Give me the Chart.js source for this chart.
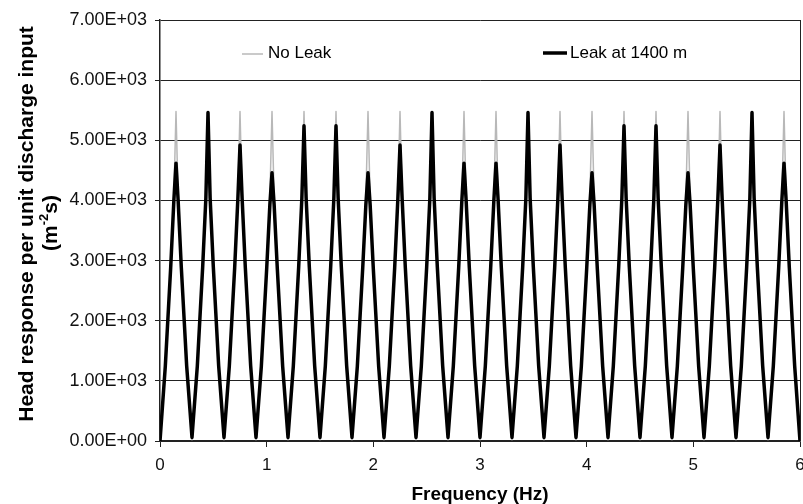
<!DOCTYPE html>
<html>
<head>
<meta charset="utf-8">
<script src="https://cdn.jsdelivr.net/npm/chart.js@4.4.1/dist/chart.umd.min.js"></script>
<style>
  html, body { margin: 0; padding: 0; background: #fff; }
  #wrap { width: 803px; height: 504px; position: relative; }
</style>
</head>
<body>
<div id="wrap"><canvas id="chart"></canvas></div>
<script>
// frequency samples (Hz): troughs, flanks, peaks
const freq = [
  0, 0.05, 0.1, 0.13, 0.15, 0.17, 0.2, 0.25,
  0.3, 0.35, 0.4, 0.43, 0.45, 0.47, 0.5, 0.55,
  0.6, 0.65, 0.7, 0.73, 0.75, 0.77, 0.8, 0.85,
  0.9, 0.95, 1.0, 1.03, 1.05, 1.07, 1.1, 1.15,
  1.2, 1.25, 1.3, 1.33, 1.35, 1.37, 1.4, 1.45,
  1.5, 1.55, 1.6, 1.63, 1.65, 1.67, 1.7, 1.75,
  1.8, 1.85, 1.9, 1.93, 1.95, 1.97, 2.0, 2.05,
  2.1, 2.15, 2.2, 2.23, 2.25, 2.27, 2.3, 2.35,
  2.4, 2.45, 2.5, 2.53, 2.55, 2.57, 2.6, 2.65,
  2.7, 2.75, 2.8, 2.83, 2.85, 2.87, 2.9, 2.95,
  3.0, 3.05, 3.1, 3.13, 3.15, 3.17, 3.2, 3.25,
  3.3, 3.35, 3.4, 3.43, 3.45, 3.47, 3.5, 3.55,
  3.6, 3.65, 3.7, 3.73, 3.75, 3.77, 3.8, 3.85,
  3.9, 3.95, 4.0, 4.03, 4.05, 4.07, 4.1, 4.15,
  4.2, 4.25, 4.3, 4.33, 4.35, 4.37, 4.4, 4.45,
  4.5, 4.55, 4.6, 4.63, 4.65, 4.67, 4.7, 4.75,
  4.8, 4.85, 4.9, 4.93, 4.95, 4.97, 5.0, 5.05,
  5.1, 5.15, 5.2, 5.23, 5.25, 5.27, 5.3, 5.35,
  5.4, 5.45, 5.5, 5.53, 5.55, 5.57, 5.6, 5.65,
  5.7, 5.75, 5.8, 5.83, 5.85, 5.87, 5.9, 5.95,
  6.0
];

// head response, no leak (grey)
const noLeak = [
  0, 1250, 2900, 4050, 5480, 4050, 2900, 1250,
  20, 1250, 2900, 4050, 5480, 4050, 2900, 1250,
  20, 1250, 2900, 4050, 5480, 4050, 2900, 1250,
  20, 1250, 2900, 4050, 5480, 4050, 2900, 1250,
  20, 1250, 2900, 4050, 5480, 4050, 2900, 1250,
  20, 1250, 2900, 4050, 5480, 4050, 2900, 1250,
  20, 1250, 2900, 4050, 5480, 4050, 2900, 1250,
  20, 1250, 2900, 4050, 5480, 4050, 2900, 1250,
  20, 1250, 2900, 4050, 5480, 4050, 2900, 1250,
  20, 1250, 2900, 4050, 5480, 4050, 2900, 1250,
  20, 1250, 2900, 4050, 5480, 4050, 2900, 1250,
  20, 1250, 2900, 4050, 5480, 4050, 2900, 1250,
  20, 1250, 2900, 4050, 5480, 4050, 2900, 1250,
  20, 1250, 2900, 4050, 5480, 4050, 2900, 1250,
  20, 1250, 2900, 4050, 5480, 4050, 2900, 1250,
  20, 1250, 2900, 4050, 5480, 4050, 2900, 1250,
  20, 1250, 2900, 4050, 5480, 4050, 2900, 1250,
  20, 1250, 2900, 4050, 5480, 4050, 2900, 1250,
  20, 1250, 2900, 4050, 5480, 4050, 2900, 1250,
  20, 1250, 2900, 4050, 5480, 4050, 2900, 1250,
  0
];

// head response, leak at 1400 m (black)
const leak1400 = [
  0, 1250, 2880, 4000, 4620, 4000, 2880, 1250,
  60, 1250, 2890, 4040, 5460, 4040, 2890, 1250,
  60, 1250, 2880, 4030, 4920, 4030, 2880, 1250,
  60, 1240, 2860, 3930, 4460, 3930, 2860, 1240,
  60, 1250, 2890, 4040, 5240, 4040, 2890, 1250,
  60, 1250, 2890, 4040, 5240, 4040, 2890, 1250,
  60, 1240, 2860, 3930, 4460, 3930, 2860, 1240,
  60, 1250, 2880, 4030, 4920, 4030, 2880, 1250,
  60, 1250, 2890, 4040, 5460, 4040, 2890, 1250,
  60, 1250, 2880, 4000, 4620, 4000, 2880, 1250,
  60, 1250, 2880, 4000, 4620, 4000, 2880, 1250,
  60, 1250, 2890, 4040, 5460, 4040, 2890, 1250,
  60, 1250, 2880, 4030, 4920, 4030, 2880, 1250,
  60, 1240, 2860, 3930, 4460, 3930, 2860, 1240,
  60, 1250, 2890, 4040, 5240, 4040, 2890, 1250,
  60, 1250, 2890, 4040, 5240, 4040, 2890, 1250,
  60, 1240, 2860, 3930, 4460, 3930, 2860, 1240,
  60, 1250, 2880, 4030, 4920, 4030, 2880, 1250,
  60, 1250, 2890, 4040, 5460, 4040, 2890, 1250,
  60, 1250, 2880, 4000, 4620, 4000, 2880, 1250,
  0
];

const seriesNames = ['No Leak', 'Leak at 1400 m'];
const xTicks = [0, 1, 2, 3, 4, 5, 6];
const yTicks = [0, 1000, 2000, 3000, 4000, 5000, 6000, 7000];

const FONT = "'Liberation Sans', Arial, Helvetica, sans-serif";

function sci(v) {
  if (v === 0) return '0.00E+00';
  const e = Math.floor(Math.log10(Math.abs(v)));
  const m = v / Math.pow(10, e);
  return m.toFixed(2) + 'E' + (e < 0 ? '-' : '+') + String(Math.abs(e)).padStart(2, '0');
}

function pts(ys) {
  return freq.map((f, i) => ({ x: f, y: ys[i] }));
}

// legend + axis titles drawn by hand (legend sits inside the plot)
const decor = {
  id: 'decor',
  afterDraw(chart) {
    const ctx = chart.ctx;
    const ds = chart.data.datasets;
    ctx.save();
    ctx.font = '17px ' + FONT;
    ctx.fillStyle = '#000';
    ctx.textBaseline = 'middle';
    ctx.textAlign = 'left';

    ctx.strokeStyle = ds[0].borderColor;
    ctx.lineWidth = 1.5;
    ctx.beginPath(); ctx.moveTo(242, 54); ctx.lineTo(263, 54); ctx.stroke();
    ctx.fillText(ds[0].label, 268, 53);

    ctx.strokeStyle = ds[1].borderColor;
    ctx.lineWidth = 3.5;
    ctx.beginPath(); ctx.moveTo(543, 53); ctx.lineTo(567, 53); ctx.stroke();
    ctx.fillText(ds[1].label, 570, 53);

    // x title
    const a = chart.chartArea;
    ctx.font = 'bold 19px ' + FONT;
    ctx.textAlign = 'center';
    ctx.textBaseline = 'alphabetic';
    ctx.fillText('Frequency (Hz)', (a.left + a.right) / 2, 500);

    // y title, two lines, second with superscript
    ctx.save();
    ctx.translate(33, 224);
    ctx.rotate(-Math.PI / 2);
    ctx.font = 'bold 21px ' + FONT;
    ctx.fillText('Head response per unit discharge input', 0, 0);
    ctx.restore();

    ctx.save();
    ctx.translate(57, 223);
    ctx.rotate(-Math.PI / 2);
    const big = 'bold 21px ' + FONT, small = 'bold 13px ' + FONT;
    ctx.font = big; const w1 = ctx.measureText('(m').width; const w3 = ctx.measureText('s)').width;
    ctx.font = small; const w2 = ctx.measureText('-2').width;
    let x0 = -(w1 + w2 + w3) / 2;
    ctx.textAlign = 'left';
    ctx.font = big; ctx.fillText('(m', x0, 0);
    ctx.font = small; ctx.fillText('-2', x0 + w1, -9);
    ctx.font = big; ctx.fillText('s)', x0 + w1 + w2, 0);
    ctx.restore();

    ctx.restore();
  }
};

new Chart(document.getElementById('chart'), {
  type: 'line',
  data: {
    datasets: [
      {
        label: seriesNames[0],
        data: pts(noLeak),
        borderColor: '#b8b8b8',
        borderWidth: 1.5,
        pointRadius: 0,
        tension: 0,
        borderJoinStyle: 'round',
        order: 1
      },
      {
        label: seriesNames[1],
        data: pts(leak1400),
        borderColor: '#000',
        borderWidth: 3.5,
        pointRadius: 0,
        tension: 0,
        borderJoinStyle: 'round',
        order: 0
      }
    ]
  },
  options: {
    responsive: true,
    maintainAspectRatio: false,
    animation: false,
    layout: { padding: { top: 20, right: 3, left: 0, bottom: 0 } },
    plugins: { legend: { display: false }, tooltip: { enabled: false } },
    scales: {
      x: {
        type: 'linear',
        min: 0,
        max: 6,
        afterBuildTicks: s => { s.ticks = xTicks.map(v => ({ value: v })); },
        afterFit: s => { s.height = 63; s.paddingLeft = 0; s.paddingRight = 0; },
        ticks: { font: { size: 17, family: FONT }, color: '#111', padding: 8, maxRotation: 0 },
        grid: {
          drawOnChartArea: true,
          color: c => (c.tick && c.tick.value === 6 ? '#222' : 'rgba(0,0,0,0)'),
          tickColor: '#222',
          tickLength: 6,
          lineWidth: 1
        },
        border: { display: true, color: '#222', width: 1.5 }
      },
      y: {
        min: 0,
        max: 7000,
        afterBuildTicks: s => { s.ticks = yTicks.map(v => ({ value: v })); },
        afterFit: s => { s.width = 160; s.paddingTop = 0; s.paddingBottom = 0; },
        ticks: { font: { size: 18, family: FONT }, color: '#111', padding: 8, callback: v => sci(v) },
        grid: { color: '#222', tickColor: '#222', tickLength: 5, lineWidth: 1 },
        border: { display: true, color: '#222', width: 1.5 }
      }
    }
  },
  plugins: [decor]
});
</script>
</body>
</html>
